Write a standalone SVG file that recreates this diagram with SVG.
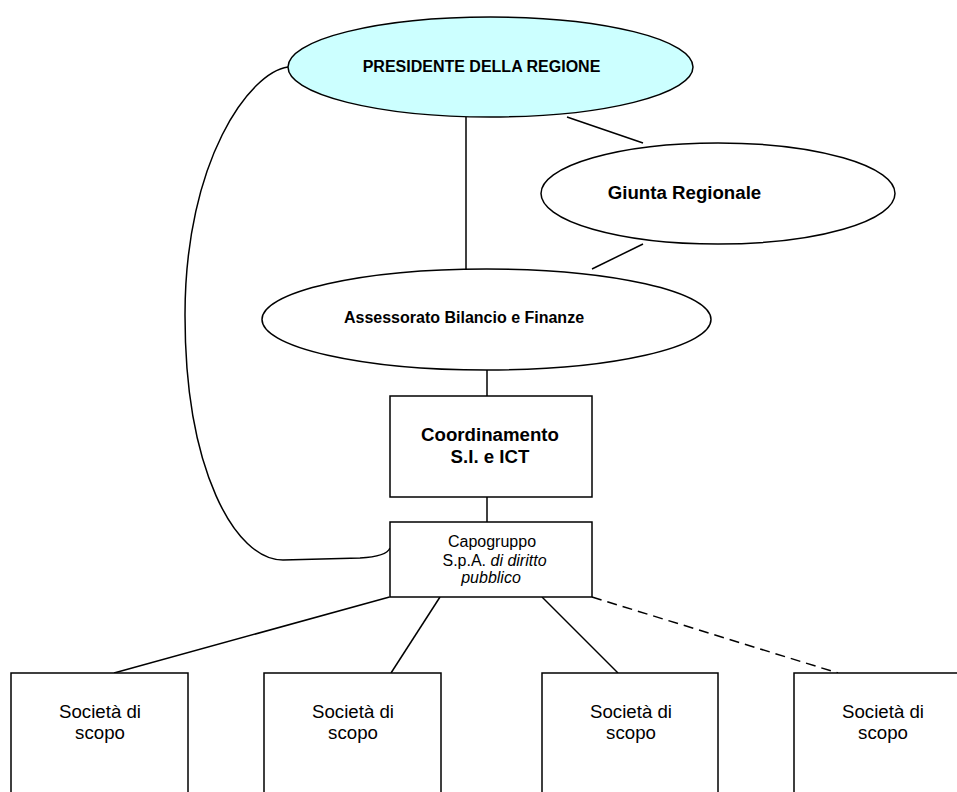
<svg xmlns="http://www.w3.org/2000/svg" width="957" height="792" viewBox="0 0 957 792">
<style>
.shape{fill:#fff;stroke:#000;stroke-width:1.5}
.conn{fill:none;stroke:#000;stroke-width:1.5}
.t{font-family:"Liberation Sans",Arial,sans-serif;fill:#000;text-anchor:middle}
.b{font-weight:bold}
</style>
<rect x="0" y="0" width="957" height="792" fill="#fff"/>
<g id="connectors">
<path class="conn" d="M288 67 C250 72 185 160 185 315 C185 470 235 560 283 560 L360 558 C378 557 388 553 390 548"/>
<line class="conn" x1="466" y1="117" x2="466" y2="269"/>
<line class="conn" x1="567" y1="117" x2="643" y2="143"/>
<line class="conn" x1="643" y1="244" x2="592" y2="269"/>
<line class="conn" x1="487" y1="370" x2="487" y2="396"/>
<line class="conn" x1="487" y1="497" x2="487" y2="522"/>
<line class="conn" x1="389.5" y1="597" x2="114" y2="673"/>
<line class="conn" x1="440" y1="597" x2="391" y2="673"/>
<line class="conn" x1="542" y1="597" x2="618" y2="673"/>
<line class="conn" x1="592" y1="597" x2="838" y2="673" stroke-dasharray="10 6"/>
</g>
<g id="presidente">
<ellipse class="shape" cx="490.5" cy="67" rx="202.5" ry="50" style="fill:#ccffff"/>
<text class="t b" x="481.5" y="72" font-size="16">PRESIDENTE DELLA REGIONE</text>
</g>
<g id="giunta">
<ellipse class="shape" cx="718" cy="193.5" rx="177" ry="50.5"/>
<text class="t b" x="684.5" y="199" font-size="18.67">Giunta Regionale</text>
</g>
<g id="assessorato">
<ellipse class="shape" cx="486.5" cy="319.5" rx="224.5" ry="50.5"/>
<text class="t b" x="464" y="323" font-size="16">Assessorato Bilancio e Finanze</text>
</g>
<g id="coordinamento">
<rect class="shape" x="390" y="396" width="202" height="101"/>
<text class="t b" x="490" y="441" font-size="18.67">Coordinamento</text>
<text class="t b" x="490" y="463" font-size="18.67">S.I. e ICT</text>
</g>
<g id="capogruppo">
<rect class="shape" x="390" y="522" width="202" height="75"/>
<text class="t" x="492" y="547" font-size="16">Capogruppo</text>
<text class="t" x="494.5" y="566" font-size="16">S.p.A. <tspan font-style="italic">di diritto</tspan></text>
<text class="t" x="491" y="583" font-size="16" font-style="italic">pubblico</text>
</g>
<g id="societa1">
<rect class="shape" x="11" y="673" width="177" height="140"/>
<text class="t" x="100" y="718" font-size="18.67">Società di</text>
<text class="t" x="100" y="739" font-size="18.67">scopo</text>
</g>
<g id="societa2">
<rect class="shape" x="264" y="673" width="177" height="140"/>
<text class="t" x="353" y="718" font-size="18.67">Società di</text>
<text class="t" x="353" y="739" font-size="18.67">scopo</text>
</g>
<g id="societa3">
<rect class="shape" x="542" y="673" width="176" height="140"/>
<text class="t" x="631" y="718" font-size="18.67">Società di</text>
<text class="t" x="631" y="739" font-size="18.67">scopo</text>
</g>
<g id="societa4">
<rect class="shape" x="794" y="673" width="177" height="140"/>
<text class="t" x="883" y="718" font-size="18.67">Società di</text>
<text class="t" x="883" y="739" font-size="18.67">scopo</text>
</g>
</svg>
